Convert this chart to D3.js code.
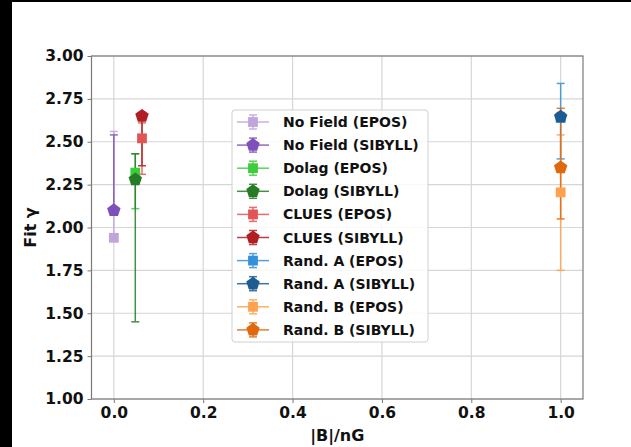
<!DOCTYPE html>
<html>
<head>
<meta charset="utf-8">
<script src="https://cdn.jsdelivr.net/npm/d3@7"></script>
<style>
  html, body { margin: 0; padding: 0; background: #fff; }
  svg { display: block; }
  text { font-family: "DejaVu Sans", sans-serif; font-weight: bold; fill: #111; }
</style>
</head>
<body>
<svg id="chart" width="631" height="447"></svg>
<script>
// Fitted spectral index gamma versus magnetic field strength
const seriesNames = [
  "No Field (EPOS)", "No Field (SIBYLL)",
  "Dolag (EPOS)", "Dolag (SIBYLL)",
  "CLUES (EPOS)", "CLUES (SIBYLL)",
  "Rand. A (EPOS)", "Rand. A (SIBYLL)",
  "Rand. B (EPOS)", "Rand. B (SIBYLL)"
];
const fieldStrength = [0, 0, 0.048, 0.048, 0.063, 0.063, 1, 1, 1, 1];
const gammaValues   = [1.94, 2.10, 2.32, 2.28, 2.52, 2.65, 2.64, 2.645, 2.205, 2.35];
const gammaLower    = [1.93, 2.08, 2.11, 1.45, 2.31, 2.36, 2.40, 2.62, 1.75, 2.05];
const gammaUpper    = [2.56, 2.54, 2.43, 2.43, 2.61, 2.67, 2.84, 2.67, 2.54, 2.695];
const seriesColors  = [
  "#c0a5dd", "#7e50ba",
  "#3ccc3c", "#267c26",
  "#e25555", "#b01e22",
  "#3490d9", "#1d5c92",
  "#ffa24f", "#e0690f"
];
const markerShapes  = ["square", "pentagon", "square", "pentagon", "square",
                       "pentagon", "square", "pentagon", "square", "pentagon"];
const xTicks = [0, 0.2, 0.4, 0.6, 0.8, 1.0];
const yTicks = [1.00, 1.25, 1.50, 1.75, 2.00, 2.25, 2.50, 2.75, 3.00];

const svg = d3.select("#chart");
const W = 631, H = 447;
const plot = { left: 91.5, right: 583, top: 56, bottom: 399 };

// dark frame strips on the page edge
svg.append("rect").attr("x", 0).attr("y", 0).attr("width", 12).attr("height", H).attr("fill", "#000");
svg.append("rect").attr("x", 0).attr("y", 0).attr("width", W).attr("height", 2).attr("fill", "#000");

const x = d3.scaleLinear().domain([-0.05, 1.05]).range([plot.left, plot.right]);
const y = d3.scaleLinear().domain([1, 3]).range([plot.bottom, plot.top]);

// grid
const grid = svg.append("g");
grid.selectAll(".gx").data(xTicks).join("line")
  .attr("x1", d => x(d)).attr("x2", d => x(d))
  .attr("y1", plot.top).attr("y2", plot.bottom)
  .attr("stroke", "#d6d6d6").attr("stroke-width", 1.2);
grid.selectAll(".gy").data(yTicks).join("line")
  .attr("x1", plot.left).attr("x2", plot.right)
  .attr("y1", d => y(d)).attr("y2", d => y(d))
  .attr("stroke", "#d6d6d6").attr("stroke-width", 1.2);

// axes
const xAxis = svg.append("g").attr("transform", `translate(0,${plot.bottom})`)
  .call(d3.axisBottom(x).tickValues(xTicks).tickFormat(d3.format(".1f")).tickSize(4).tickPadding(4));
const yAxis = svg.append("g").attr("transform", `translate(${plot.left},0)`)
  .call(d3.axisLeft(y).tickValues(yTicks).tickFormat(d3.format(".2f")).tickSize(4).tickPadding(4));
[xAxis, yAxis].forEach(a => {
  a.select(".domain").remove();
  a.selectAll(".tick line").attr("stroke", "#777").attr("stroke-width", 1);
  a.selectAll(".tick text").attr("font-size", 15.5).attr("font-family", "DejaVu Sans").attr("font-weight", "bold").attr("fill", "#111");
});

// spines
svg.append("rect")
  .attr("x", plot.left).attr("y", plot.top)
  .attr("width", plot.right - plot.left).attr("height", plot.bottom - plot.top)
  .attr("fill", "none").attr("stroke", "#7a7a7a").attr("stroke-width", 1.2);

// axis labels
svg.append("text").attr("x", (plot.left + plot.right) / 2).attr("y", 441)
  .attr("text-anchor", "middle").attr("font-size", 16).text("|B|/nG");
svg.append("text").attr("transform", `translate(36,${(plot.top + plot.bottom) / 2}) rotate(-90)`)
  .attr("text-anchor", "middle").attr("font-size", 16).text("Fit γ");

// pentagon symbol for d3.symbol
const pentagon = {
  draw(ctx, size) {
    const r = Math.sqrt(size / 2.3776);
    for (let i = 0; i < 5; i++) {
      const a = -Math.PI / 2 + i * 2 * Math.PI / 5;
      const px = r * Math.cos(a), py = r * Math.sin(a);
      if (i === 0) ctx.moveTo(px, py); else ctx.lineTo(px, py);
    }
    ctx.closePath();
  }
};
const symbolPath = shape => shape === "square"
  ? d3.symbol().type(d3.symbolSquare).size(96)()
  : d3.symbol().type(pentagon).size(118)();

const data = seriesNames.map((name, i) => ({
  name, x: fieldStrength[i], v: gammaValues[i], lo: gammaLower[i], hi: gammaUpper[i],
  color: seriesColors[i], shape: markerShapes[i]
}));

const cap = 4;
// error bars (all below markers)
const bars = svg.append("g");
data.forEach(d => {
  const g = bars.append("g").attr("stroke", d.color).attr("stroke-width", 1.5).attr("opacity", 0.85);
  g.append("line").attr("x1", x(d.x)).attr("x2", x(d.x)).attr("y1", y(d.lo)).attr("y2", y(d.hi));
  [d.lo, d.hi].forEach(b => g.append("line")
    .attr("x1", x(d.x) - cap).attr("x2", x(d.x) + cap).attr("y1", y(b)).attr("y2", y(b)));
});

// markers
svg.append("g").selectAll("path").data(data).join("path")
  .attr("transform", d => `translate(${x(d.x)},${y(d.v)})`)
  .attr("d", d => symbolPath(d.shape))
  .attr("fill", d => d.color);

// legend
const leg = { x: 232, y: 110, w: 196, h: 232, row: 23.1 };
const lg = svg.append("g");
lg.append("rect").attr("x", leg.x).attr("y", leg.y).attr("width", leg.w).attr("height", leg.h)
  .attr("rx", 3).attr("fill", "#fff").attr("fill-opacity", 0.85)
  .attr("stroke", "#d0d0d0").attr("stroke-width", 1);
data.forEach((d, i) => {
  const cy = leg.y + 12 + i * leg.row;
  const cx = leg.x + 21;
  const g = lg.append("g").attr("stroke", d.color).attr("stroke-width", 1.5).attr("opacity", 0.85);
  g.append("line").attr("x1", cx - 16).attr("x2", cx + 16).attr("y1", cy).attr("y2", cy);
  g.append("line").attr("x1", cx).attr("x2", cx).attr("y1", cy - 7).attr("y2", cy + 7);
  g.append("line").attr("x1", cx - cap).attr("x2", cx + cap).attr("y1", cy - 7).attr("y2", cy - 7);
  g.append("line").attr("x1", cx - cap).attr("x2", cx + cap).attr("y1", cy + 7).attr("y2", cy + 7);
  lg.append("path").attr("transform", `translate(${cx},${cy})`)
    .attr("d", symbolPath(d.shape)).attr("fill", d.color);
  lg.append("text").attr("x", leg.x + 51).attr("y", cy + 5)
    .attr("font-size", 14).text(d.name);
});
</script>
</body>
</html>
